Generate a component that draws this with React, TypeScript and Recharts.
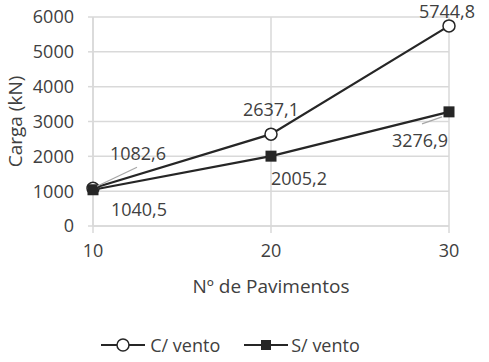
import React from 'react';
import { LineChart, Line, XAxis, YAxis, CartesianGrid, Legend, LabelList } from 'recharts';

const xValues = [10, 20, 30];
const cVento = [1082.6, 2637.1, 5744.8];
const sVento = [1040.5, 2005.2, 3276.9];
const yTicks = [0, 1000, 2000, 3000, 4000, 5000, 6000];
const seriesNames = ['C/ vento', 'S/ vento'];
const xTitle = 'Nº de Pavimentos';
const yTitle = 'Carga (kN)';

const data = xValues.map((x, i) => ({ x, c: cVento[i], s: sVento[i] }));

const FONT = '"Open Sans", sans-serif';
const TEXT = '#404040';
const LINE = '#262626';
const GRID = '#d9d9d9';
const LEADER = '#a6a6a6';
const FS = 18;
const TITLE_FS = 19;

const fmt = (v: number) => v.toFixed(1).replace('.', ',');

// label placement (offset from the point) and optional leader line
const cOffsets = [
  { dx: 45, dy: -35, leader: { x1: 4, y1: -2, x2: 44, y2: -21 } },
  { dx: 0, dy: -25 },
  { dx: -2, dy: -15 },
];
const sOffsets = [
  { dx: 46, dy: 19 },
  { dx: 28, dy: 22 },
  { dx: -29, dy: 28, leader: { x1: -7, y1: 5, x2: -27, y2: 12 } },
];

const makeLabel = (offsets: any[]) => (props: any) => {
  const vb = props.viewBox || {};
  const x = props.x ?? vb.x;
  const y = props.y ?? vb.y;
  const idx = props.index;
  const o = offsets[idx];
  if (x == null || y == null || !o) return null;
  return (
    <g>
      {o.leader && (
        <line
          x1={x + o.leader.x1}
          y1={y + o.leader.y1}
          x2={x + o.leader.x2}
          y2={y + o.leader.y2}
          stroke={LEADER}
          strokeWidth={1.25}
        />
      )}
      <text
        x={x + o.dx}
        y={y + o.dy}
        textAnchor="middle"
        dominantBaseline="central"
        fill={TEXT}
        fontSize={FS}
        fontFamily={FONT}
      >
        {fmt(Number(props.value))}
      </text>
    </g>
  );
};

const SquareDot = (props: any) => {
  const { cx, cy } = props;
  if (cx == null || cy == null) return null;
  return <rect x={cx - 5.5} y={cy - 5.5} width={11} height={11} fill={LINE} />;
};

const LegendContent = () => (
  <div
    style={{
      display: 'flex',
      justifyContent: 'center',
      alignItems: 'center',
      fontFamily: FONT,
      fontSize: FS,
      color: TEXT,
      height: 22,
      paddingLeft: 12,
    }}
  >
    <div style={{ display: 'flex', alignItems: 'center', marginRight: 24 }}>
      <svg width={44} height={16} style={{ marginRight: 5 }}>
        <line x1={0} y1={8} x2={44} y2={8} stroke={LINE} strokeWidth={2} />
        <circle cx={22} cy={8} r={6} fill="#fff" stroke={LINE} strokeWidth={1.5} />
      </svg>
      <span>{seriesNames[0]}</span>
    </div>
    <div style={{ display: 'flex', alignItems: 'center' }}>
      <svg width={44} height={16} style={{ marginRight: 3 }}>
        <line x1={0} y1={8} x2={44} y2={8} stroke={LINE} strokeWidth={2} />
        <rect x={17} y={3} width={10} height={10} fill={LINE} />
      </svg>
      <span>{seriesNames[1]}</span>
    </div>
  </div>
);

export default function App() {
  return (
    <div style={{ position: 'absolute', left: 0, top: 0 }}>
      <LineChart
        width={489}
        height={362}
        data={data}
        margin={{ top: 17, right: 40, left: 0, bottom: 6 }}
      >
        <CartesianGrid stroke={GRID} strokeWidth={1.5} vertical={true} horizontal={true} />
        <XAxis
          dataKey="x"
          type="number"
          domain={[10, 30]}
          ticks={xValues}
          height={108}
          axisLine={{ stroke: GRID, strokeWidth: 1.5 }}
          tickLine={{ stroke: GRID, strokeWidth: 1.5 }}
          tickSize={7}
          tickMargin={11}
          tick={{ fill: TEXT, fontSize: FS, fontFamily: FONT }}
          label={{
            content: (p: any) => {
              const vb = p.viewBox || {};
              const cx = (vb.x ?? 0) + (vb.width ?? 0) / 2;
              const cy = (vb.y ?? 0) + 60;
              return (
                <text
                  x={cx}
                  y={cy}
                  textAnchor="middle"
                  dominantBaseline="central"
                  fill={TEXT}
                  fontSize={TITLE_FS}
                  fontFamily={FONT}
                >
                  {xTitle}
                </text>
              );
            },
          }}
        />
        <YAxis
          type="number"
          domain={[0, 6000]}
          ticks={yTicks}
          width={93}
          axisLine={{ stroke: GRID, strokeWidth: 1.5 }}
          tickLine={{ stroke: GRID, strokeWidth: 1.5 }}
          tickSize={5}
          tickMargin={14}
          tick={{ fill: TEXT, fontSize: FS, fontFamily: FONT }}
          label={{
            content: (p: any) => {
              const vb = p.viewBox || {};
              const cx = (vb.x ?? 0) + 15;
              const cy = (vb.y ?? 0) + (vb.height ?? 0) / 2;
              return (
                <text
                  x={cx}
                  y={cy}
                  transform={`rotate(-90 ${cx} ${cy})`}
                  textAnchor="middle"
                  dominantBaseline="central"
                  fill={TEXT}
                  fontSize={TITLE_FS}
                  fontFamily={FONT}
                >
                  {yTitle}
                </text>
              );
            },
          }}
        />
        <Legend verticalAlign="bottom" content={<LegendContent />} />
        <Line
          type="linear"
          dataKey="c"
          name={seriesNames[0]}
          stroke={LINE}
          strokeWidth={2.25}
          dot={{ r: 6, fill: '#fff', stroke: LINE, strokeWidth: 1.5 }}
          activeDot={false}
          isAnimationActive={false}
        >
          <LabelList dataKey="c" content={makeLabel(cOffsets)} />
        </Line>
        <Line
          type="linear"
          dataKey="s"
          name={seriesNames[1]}
          stroke={LINE}
          strokeWidth={2.25}
          dot={<SquareDot />}
          activeDot={false}
          isAnimationActive={false}
        >
          <LabelList dataKey="s" content={makeLabel(sOffsets)} />
        </Line>
      </LineChart>
    </div>
  );
}
